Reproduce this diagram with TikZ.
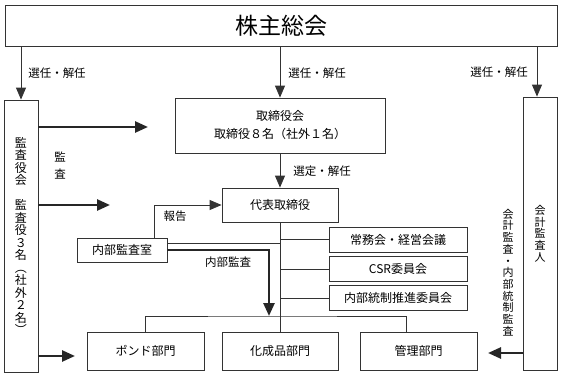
\documentclass[tikz,border=0pt]{standalone}
\usepackage{fontspec}
\setmainfont{Noto Sans CJK JP}
\usetikzlibrary{arrows.meta}

\begin{document}
\begin{tikzpicture}[x=1pt,y=-1pt,
	box/.style={draw=black!80, line width=0.8pt, inner sep=0pt, font=\fontsize{12}{14}\selectfont},
	thin/.style={draw=black!80, line width=0.8pt},
	pointer/.style={thin, -{Triangle[length=12pt,width=10pt]}},
	heavy/.style={draw=black!85, line width=2.6pt, -{Triangle[length=13pt,width=11pt]}},
	lbl/.style={inner sep=0pt, font=\fontsize{11.5}{13}\selectfont},
	tate/.style={align=center, inner sep=0pt}]
	\useasboundingbox (0,0) rectangle (563,380);
	\node [box, minimum width=552pt, minimum height=41pt, font=\fontsize{23}{26}\selectfont] (soukai) at (281,25.5) {株主総会};
	\node [box, tate, minimum width=34pt, minimum height=272pt, font=\fontsize{12}{12.5}\selectfont] (kansa) at (21,236) {監\\査\\役\\会\\[12.5pt]監\\査\\役\\３\\名\\︵\\社\\外\\２\\名\\︶};
	\node [box, tate, minimum width=34pt, minimum height=273pt, font=\fontsize{11}{11.7}\selectfont] (kaikei) at (540,233.5) {会\\計\\監\\査\\人};
	\node [box, align=center, minimum width=210pt, minimum height=55pt, font=\fontsize{12}{18}\selectfont] (torikai) at (280,125.5) {取締役会\\取締役８名（社外１名）};
	\node [box, minimum width=116pt, minimum height=34pt] (daihyo) at (280,205) {代表取締役};
	\node [box, minimum width=90pt, minimum height=24pt] (naibu) at (122,250) {内部監査室};
	\node [box, minimum width=138pt, minimum height=25pt] (joumu) at (398,239.5) {常務会・経営会議};
	\node [box, minimum width=138pt, minimum height=25pt] (csr) at (398,269) {CSR委員会};
	\node [box, minimum width=138pt, minimum height=25pt] (tousei) at (398,298) {内部統制推進委員会};
	\node [box, minimum width=117pt, minimum height=38pt] (bond) at (145.5,351) {ポンド部門};
	\node [box, minimum width=116pt, minimum height=38pt] (kasei) at (280,351) {化成品部門};
	\node [box, minimum width=117pt, minimum height=38pt] (kanri) at (418.5,351) {管理部門};

	\node [lbl] (senninL) at (57,73) {選任・解任};
	\node [lbl] (senninC) at (317,73) {選任・解任};
	\node [lbl] (senninR) at (499,72) {選任・解任};
	\node [lbl] (sentei) at (322,171) {選定・解任};
	\node [lbl, tate, font=\fontsize{11.5}{17}\selectfont] (kansalbl) at (60,166) {監\\査};
	\node [lbl] (houkoku) at (175,216) {報告};
	\node [lbl] (naibukansa) at (228,262) {内部監査};
	\node [lbl, tate, font=\fontsize{11}{11.7}\selectfont] (kaikeilbl) at (508,272.5) {会\\計\\監\\査\\・\\内\\部\\統\\制\\監\\査};

	\coordinate (torikaiaim) at (148,127);
	\coordinate (daihyoaim) at (110,205);
	\coordinate (bondaim) at (75,356);
	\coordinate (kanriaim) at (488,353);
	\coordinate (bus) at (269,316);

	\draw [pointer] (kansa.north |- soukai.south) -- (kansa.north);
	\draw [pointer] (torikai.north |- soukai.south) -- (torikai.north);
	\draw [pointer] ([xshift=-3pt]kaikei.north |- soukai.south) -- ([xshift=-3pt]kaikei.north);
	\draw [pointer] (torikai.south) -- (daihyo.north);
	\draw [thin] (daihyo.south) -- (kasei.north);
	\draw [thin] (joumu.west) -- (joumu.west -| daihyo.south);
	\draw [thin] (csr.west) -- (csr.west -| daihyo.south);
	\draw [thin] (tousei.west) -- (tousei.west -| daihyo.south);
	\draw [pointer] ([xshift=32pt]naibu.north) |- (daihyo.west);
	\draw [thin] ([yshift=7pt]naibu.east) -- ([yshift=7pt]naibu.east -| daihyo.south);
	\draw [thin] (bond.north) |- (bus) -| ([xshift=-12pt]kanri.north);
	\draw [heavy] (naibu.east) -| (bus);
	\draw [heavy] (kansa.east |- torikaiaim) -- (torikaiaim);
	\draw [heavy] (kansa.east |- daihyoaim) -- (daihyoaim);
	\draw [heavy] (kansa.east |- bondaim) -- (bondaim);
	\draw [heavy] (kaikei.west |- kanriaim) -- (kanriaim);
\end{tikzpicture}
\end{document}
